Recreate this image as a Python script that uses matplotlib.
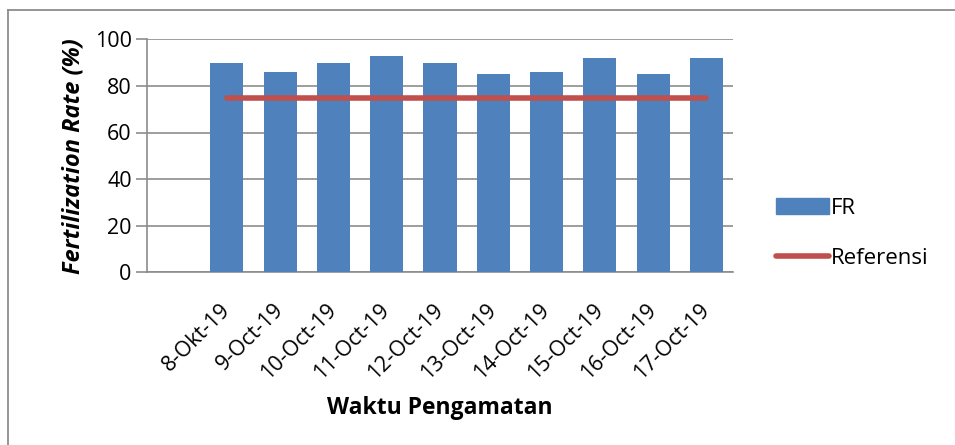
import matplotlib
matplotlib.use("Agg")
import matplotlib.pyplot as plt
from matplotlib.patches import Rectangle
from matplotlib.lines import Line2D

plt.rcParams['font.family'] = ['Open Sans', 'DejaVu Sans']

categories = ["8-Okt-19", "9-Oct-19", "10-Oct-19", "11-Oct-19", "12-Oct-19",
              "13-Oct-19", "14-Oct-19", "15-Oct-19", "16-Oct-19", "17-Oct-19"]
fr_values = [90, 86, 90, 93, 90, 85, 86, 92, 85, 92]
ref_values = [75, 75, 75, 75, 75, 75, 75, 75, 75, 75]
yticks = [0, 20, 40, 60, 80, 100]

bar_color = "#4F81BD"
line_color = "#C0504D"
grid_color = "#8C8C8C"

fig = plt.figure(figsize=(9.55, 4.45), dpi=100)
# outer chart border (top and left visible)
fig.add_artist(Line2D([7.5/955, 7.5/955], [0, 1 - 9.5/445], color="#8C8C8C", lw=1.3, transform=fig.transFigure))
fig.add_artist(Line2D([7.5/955, 1], [1 - 9.5/445, 1 - 9.5/445], color="#8C8C8C", lw=1.3, transform=fig.transFigure))

ax = fig.add_axes([147/955, 1 - 272.3/445, (733 - 147)/955, (272.3 - 39.3)/445])

x = list(range(1, len(categories) + 1))
ax.bar(x, fr_values, width=0.62, color=bar_color, zorder=3, label="FR")
ax.plot(x, ref_values, color=line_color, lw=4, solid_capstyle="round", zorder=4, label="Referensi")

ax.set_xlim(-0.5, len(categories) + 0.5)
ax.set_ylim(0, 100)
ax.set_yticks(yticks)
ax.yaxis.grid(True, color=grid_color, lw=1.2, zorder=0)
ax.set_axisbelow(True)

for s in ["top", "right"]:
    ax.spines[s].set_visible(False)
ax.spines["left"].set_color(grid_color)
ax.spines["bottom"].set_color(grid_color)
ax.spines["left"].set_linewidth(1.2)
ax.spines["bottom"].set_linewidth(1.2)

ax.tick_params(axis="y", length=8, color=grid_color, width=1.2, labelsize=15.5, pad=3, labelcolor="black")
ax.set_xticks(x)
ax.set_xticklabels(categories, rotation=45, ha="right", va="center", rotation_mode="anchor", fontsize=15.5)
ax.tick_params(axis="x", length=0, pad=25)

ax.set_ylabel("Fertilization Rate (%)", fontsize=17, fontweight="bold", fontstyle="italic", labelpad=7)
ax.set_xlabel("Waktu Pengamatan", fontsize=16.5, fontweight="bold", labelpad=9)

handles = [Rectangle((0, 0), 1, 1, color=bar_color),
           Line2D([0], [0], color=line_color, lw=4, solid_capstyle="round")]
fig.legend(handles, ["FR", "Referensi"], loc="upper left", bbox_to_anchor=(767/955, 1 - 189/445),
           frameon=False, fontsize=16, handlelength=2.4, handletextpad=0.08, labelspacing=1.3,
           borderaxespad=0)

fig.savefig("out.png", dpi=100, facecolor="white")
